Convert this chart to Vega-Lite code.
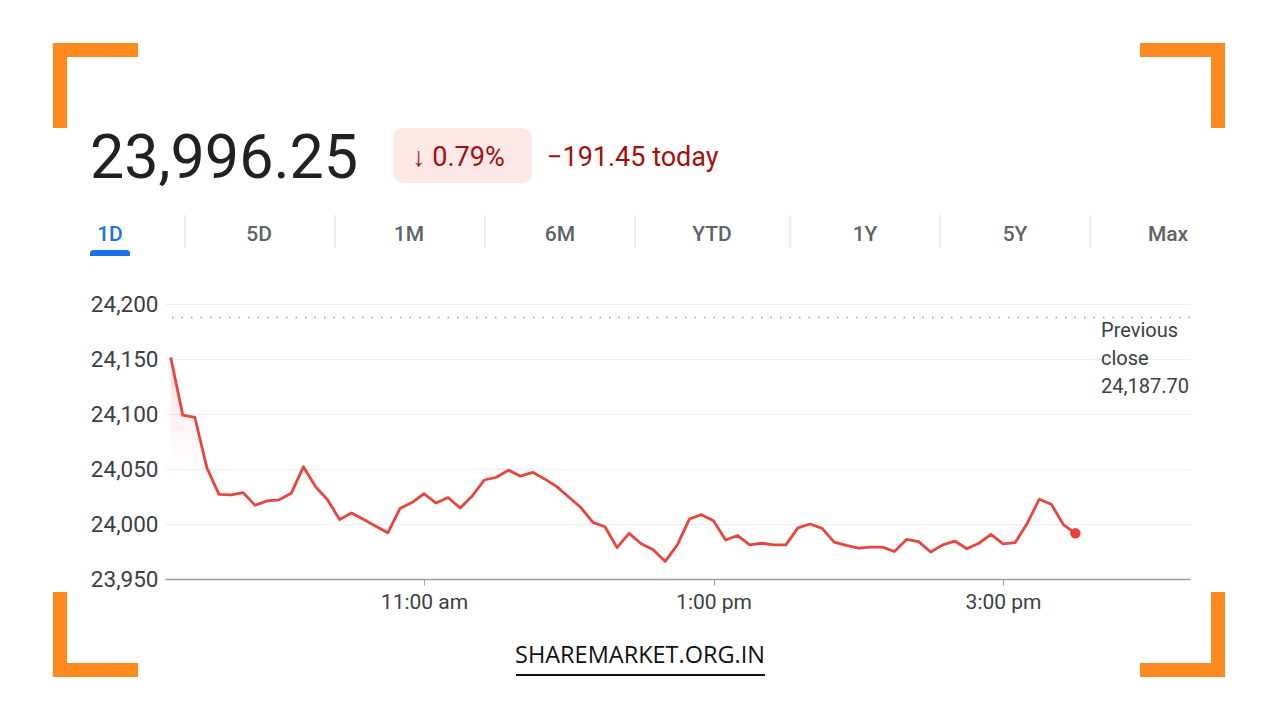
{
  "$schema": "https://vega.github.io/schema/vega-lite/v6.json",
  "width": 1025,
  "height": 275,
  "autosize": {"type": "none"},
  "padding": {"left": 165, "top": 304, "right": 90, "bottom": 141},
  "background": "white",
  "config": {"view": {"stroke": null}, "font": "Roboto"},
  "datasets": {
    "nifty": [
      {"t": "2024-01-02T09:15", "p": 24151.5},
      {"t": "2024-01-02T09:20", "p": 24099},
      {"t": "2024-01-02T09:25", "p": 24097},
      {"t": "2024-01-02T09:30", "p": 24051},
      {"t": "2024-01-02T09:35", "p": 24027},
      {"t": "2024-01-02T09:40", "p": 24026.5},
      {"t": "2024-01-02T09:45", "p": 24028.5},
      {"t": "2024-01-02T09:50", "p": 24017},
      {"t": "2024-01-02T09:55", "p": 24021},
      {"t": "2024-01-02T10:00", "p": 24022},
      {"t": "2024-01-02T10:05", "p": 24028},
      {"t": "2024-01-02T10:10", "p": 24052},
      {"t": "2024-01-02T10:15", "p": 24034},
      {"t": "2024-01-02T10:20", "p": 24022},
      {"t": "2024-01-02T10:25", "p": 24004},
      {"t": "2024-01-02T10:30", "p": 24010},
      {"t": "2024-01-02T10:35", "p": 24004},
      {"t": "2024-01-02T10:40", "p": 23998},
      {"t": "2024-01-02T10:45", "p": 23992},
      {"t": "2024-01-02T10:50", "p": 24014},
      {"t": "2024-01-02T10:55", "p": 24019.5},
      {"t": "2024-01-02T11:00", "p": 24027.5},
      {"t": "2024-01-02T11:05", "p": 24019},
      {"t": "2024-01-02T11:10", "p": 24024},
      {"t": "2024-01-02T11:15", "p": 24014.5},
      {"t": "2024-01-02T11:20", "p": 24025.5},
      {"t": "2024-01-02T11:25", "p": 24040},
      {"t": "2024-01-02T11:30", "p": 24042.5},
      {"t": "2024-01-02T11:35", "p": 24049},
      {"t": "2024-01-02T11:40", "p": 24043.5},
      {"t": "2024-01-02T11:45", "p": 24047},
      {"t": "2024-01-02T11:50", "p": 24041},
      {"t": "2024-01-02T11:55", "p": 24034},
      {"t": "2024-01-02T12:00", "p": 24024.5},
      {"t": "2024-01-02T12:05", "p": 24015},
      {"t": "2024-01-02T12:10", "p": 24001.5},
      {"t": "2024-01-02T12:15", "p": 23997.5},
      {"t": "2024-01-02T12:20", "p": 23978.5},
      {"t": "2024-01-02T12:25", "p": 23991.5},
      {"t": "2024-01-02T12:30", "p": 23982},
      {"t": "2024-01-02T12:35", "p": 23976.5},
      {"t": "2024-01-02T12:40", "p": 23966},
      {"t": "2024-01-02T12:45", "p": 23981},
      {"t": "2024-01-02T12:50", "p": 24004.5},
      {"t": "2024-01-02T12:55", "p": 24008.5},
      {"t": "2024-01-02T13:00", "p": 24003},
      {"t": "2024-01-02T13:05", "p": 23985.5},
      {"t": "2024-01-02T13:10", "p": 23989.5},
      {"t": "2024-01-02T13:15", "p": 23981},
      {"t": "2024-01-02T13:20", "p": 23982.5},
      {"t": "2024-01-02T13:25", "p": 23981},
      {"t": "2024-01-02T13:30", "p": 23981},
      {"t": "2024-01-02T13:35", "p": 23996.5},
      {"t": "2024-01-02T13:40", "p": 24000},
      {"t": "2024-01-02T13:45", "p": 23996},
      {"t": "2024-01-02T13:50", "p": 23983.5},
      {"t": "2024-01-02T13:55", "p": 23980.5},
      {"t": "2024-01-02T14:00", "p": 23978},
      {"t": "2024-01-02T14:05", "p": 23979},
      {"t": "2024-01-02T14:10", "p": 23979},
      {"t": "2024-01-02T14:15", "p": 23975},
      {"t": "2024-01-02T14:20", "p": 23986},
      {"t": "2024-01-02T14:25", "p": 23984},
      {"t": "2024-01-02T14:30", "p": 23974.5},
      {"t": "2024-01-02T14:35", "p": 23981},
      {"t": "2024-01-02T14:40", "p": 23984.5},
      {"t": "2024-01-02T14:45", "p": 23977.5},
      {"t": "2024-01-02T14:50", "p": 23982.5},
      {"t": "2024-01-02T14:55", "p": 23990.5},
      {"t": "2024-01-02T15:00", "p": 23982},
      {"t": "2024-01-02T15:05", "p": 23983},
      {"t": "2024-01-02T15:10", "p": 24000.5},
      {"t": "2024-01-02T15:15", "p": 24022.5},
      {"t": "2024-01-02T15:20", "p": 24018},
      {"t": "2024-01-02T15:25", "p": 23999.5},
      {"t": "2024-01-02T15:30", "p": 23991.5}
    ]
  },
  "data": {"values": [{}]},
  "layer": [
    {
      "data": {"name": "nifty"},
      "mark": {"type": "area", "line": false, "fill": {"gradient": "linear", "x1": 0, "y1": 0, "x2": 0.07, "y2": 0.6, "stops": [{"offset": 0, "color": "rgba(234,67,53,0.22)"}, {"offset": 1, "color": "rgba(255,255,255,0)"}]}},
      "encoding": {
        "x": {"field": "t", "type": "temporal",
          "scale": {"domain": [{"year": 2024, "month": 1, "date": 2, "hours": 9, "minutes": 12, "seconds": 38}, {"year": 2024, "month": 1, "date": 2, "hours": 16, "minutes": 17, "seconds": 30}], "nice": false},
          "axis": {"title": null, "grid": false, "values": [{"year": 2024, "month": 1, "date": 2, "hours": 11}, {"year": 2024, "month": 1, "date": 2, "hours": 13}, {"year": 2024, "month": 1, "date": 2, "hours": 15}],
            "labelExpr": "lower(timeFormat(datum.value, '%-I:%M %p'))", "labelFontSize": 21, "labelColor": "#3c4043", "labelFont": "Roboto",
            "domainColor": "#9aa0a6", "domainWidth": 1.5, "tickColor": "#9aa0a6", "tickSize": 6, "labelPadding": 6}},
        "y": {"field": "p", "type": "quantitative",
          "scale": {"domain": [23950, 24200], "nice": false, "zero": false},
          "axis": {"title": null, "values": [23950, 24000, 24050, 24100, 24150, 24200], "format": ",.0f", "domain": false, "ticks": false,
            "gridColor": "#eeeeee", "gridWidth": 1, "labelFontSize": 22.5, "labelColor": "#3c4043", "labelFont": "Roboto", "labelPadding": 7}},
        "y2": {"datum": 23950}
      }
    },
    {
      "mark": {"type": "rule", "stroke": "#9aa0a6", "strokeWidth": 1.5, "strokeDash": [1.5, 8]},
      "encoding": {"y": {"datum": 24187.7, "type": "quantitative"}}
    },
    {
      "data": {"name": "nifty"},
      "mark": {"type": "line", "stroke": "#e8453c", "strokeWidth": 2.8, "strokeJoin": "round"},
      "encoding": {"x": {"field": "t", "type": "temporal"}, "y": {"field": "p", "type": "quantitative"}}
    },
    {
      "data": {"name": "nifty"},
      "transform": [{"window": [{"op": "row_number", "as": "r"}], "sort": [{"field": "t", "order": "descending"}]}, {"filter": "datum.r == 1"}],
      "mark": {"type": "point", "filled": true, "fill": "#e8453c", "size": 110, "opacity": 1},
      "encoding": {"x": {"field": "t", "type": "temporal"}, "y": {"field": "p", "type": "quantitative"}}
    },
    {
      "mark": {"type": "text", "text": ["Previous", "close", "24,187.70"], "align": "left", "baseline": "alphabetic", "fontSize": 20, "lineHeight": 28, "color": "#3c4043", "font": "Roboto"},
      "encoding": {"x": {"datum": {"year": 2024, "month": 1, "date": 2, "hours": 15, "minutes": 40, "seconds": 37}, "type": "temporal"}, "y": {"datum": 24170, "type": "quantitative"}}
    },
    {
      "mark": {"type": "text", "text": "23,996.25", "align": "left", "baseline": "alphabetic", "fontSize": 61, "color": "#202124", "font": "Roboto"},
      "encoding": {"x": {"datum": {"year": 2024, "month": 1, "date": 2, "hours": 8, "minutes": 41, "seconds": 33}, "type": "temporal"}, "y": {"datum": 24314.5, "type": "quantitative"}}
    },
    {
      "mark": {"type": "rect", "fill": "#fce8e6", "cornerRadius": 10},
      "encoding": {"x": {"datum": {"year": 2024, "month": 1, "date": 2, "hours": 10, "minutes": 47, "seconds": 9}, "type": "temporal"}, "x2": {"datum": {"year": 2024, "month": 1, "date": 2, "hours": 11, "minutes": 44, "seconds": 46}}, "y": {"datum": 24360, "type": "quantitative"}, "y2": {"datum": 24310}}
    },
    {
      "mark": {"type": "text", "text": "↓ 0.79%", "align": "left", "baseline": "alphabetic", "fontSize": 27, "color": "#a50e0e", "font": "Roboto"},
      "encoding": {"x": {"datum": {"year": 2024, "month": 1, "date": 2, "hours": 10, "minutes": 55, "seconds": 2}, "type": "temporal"}, "y": {"datum": 24325.5, "type": "quantitative"}}
    },
    {
      "mark": {"type": "text", "text": "−191.45 today", "align": "left", "baseline": "alphabetic", "fontSize": 27, "color": "#a50e0e", "font": "Roboto"},
      "encoding": {"x": {"datum": {"year": 2024, "month": 1, "date": 2, "hours": 11, "minutes": 50, "seconds": 59}, "type": "temporal"}, "y": {"datum": 24325.5, "type": "quantitative"}}
    },
    {
      "mark": {"type": "text", "text": "1D", "align": "center", "baseline": "alphabetic", "fontSize": 21, "fontWeight": 500, "color": "#1a73e8", "font": "Roboto"},
      "encoding": {"x": {"datum": {"year": 2024, "month": 1, "date": 2, "hours": 8, "minutes": 49, "seconds": 50}, "type": "temporal"}, "y": {"datum": 24257.3, "type": "quantitative"}}
    },
    {
      "mark": {"type": "text", "text": "5D", "align": "center", "baseline": "alphabetic", "fontSize": 21, "fontWeight": 500, "color": "#5f6368", "font": "Roboto"},
      "encoding": {"x": {"datum": {"year": 2024, "month": 1, "date": 2, "hours": 9, "minutes": 51, "seconds": 37}, "type": "temporal"}, "y": {"datum": 24257.3, "type": "quantitative"}}
    },
    {
      "mark": {"type": "text", "text": "1M", "align": "center", "baseline": "alphabetic", "fontSize": 21, "fontWeight": 500, "color": "#5f6368", "font": "Roboto"},
      "encoding": {"x": {"datum": {"year": 2024, "month": 1, "date": 2, "hours": 10, "minutes": 53, "seconds": 47}, "type": "temporal"}, "y": {"datum": 24257.3, "type": "quantitative"}}
    },
    {
      "mark": {"type": "text", "text": "6M", "align": "center", "baseline": "alphabetic", "fontSize": 21, "fontWeight": 500, "color": "#5f6368", "font": "Roboto"},
      "encoding": {"x": {"datum": {"year": 2024, "month": 1, "date": 2, "hours": 11, "minutes": 56, "seconds": 22}, "type": "temporal"}, "y": {"datum": 24257.3, "type": "quantitative"}}
    },
    {
      "mark": {"type": "text", "text": "YTD", "align": "center", "baseline": "alphabetic", "fontSize": 21, "fontWeight": 500, "color": "#5f6368", "font": "Roboto"},
      "encoding": {"x": {"datum": {"year": 2024, "month": 1, "date": 2, "hours": 12, "minutes": 59, "seconds": 23}, "type": "temporal"}, "y": {"datum": 24257.3, "type": "quantitative"}}
    },
    {
      "mark": {"type": "text", "text": "1Y", "align": "center", "baseline": "alphabetic", "fontSize": 21, "fontWeight": 500, "color": "#5f6368", "font": "Roboto"},
      "encoding": {"x": {"datum": {"year": 2024, "month": 1, "date": 2, "hours": 14, "minutes": 2, "seconds": 48}, "type": "temporal"}, "y": {"datum": 24257.3, "type": "quantitative"}}
    },
    {
      "mark": {"type": "text", "text": "5Y", "align": "center", "baseline": "alphabetic", "fontSize": 21, "fontWeight": 500, "color": "#5f6368", "font": "Roboto"},
      "encoding": {"x": {"datum": {"year": 2024, "month": 1, "date": 2, "hours": 15, "minutes": 4, "seconds": 58}, "type": "temporal"}, "y": {"datum": 24257.3, "type": "quantitative"}}
    },
    {
      "mark": {"type": "text", "text": "Max", "align": "center", "baseline": "alphabetic", "fontSize": 21, "fontWeight": 500, "color": "#5f6368", "font": "Roboto"},
      "encoding": {"x": {"datum": {"year": 2024, "month": 1, "date": 2, "hours": 16, "minutes": 8, "seconds": 23}, "type": "temporal"}, "y": {"datum": 24257.3, "type": "quantitative"}}
    },
    {
      "mark": {"type": "rule", "stroke": "#dadce0", "strokeWidth": 1},
      "encoding": {"x": {"datum": {"year": 2024, "month": 1, "date": 2, "hours": 9, "minutes": 20, "seconds": 56}, "type": "temporal"}, "y": {"datum": 24280.9, "type": "quantitative"}, "y2": {"datum": 24250.9}}
    },
    {
      "mark": {"type": "rule", "stroke": "#dadce0", "strokeWidth": 1},
      "encoding": {"x": {"datum": {"year": 2024, "month": 1, "date": 2, "hours": 10, "minutes": 23, "seconds": 7}, "type": "temporal"}, "y": {"datum": 24280.9, "type": "quantitative"}, "y2": {"datum": 24250.9}}
    },
    {
      "mark": {"type": "rule", "stroke": "#dadce0", "strokeWidth": 1},
      "encoding": {"x": {"datum": {"year": 2024, "month": 1, "date": 2, "hours": 11, "minutes": 25, "seconds": 17}, "type": "temporal"}, "y": {"datum": 24280.9, "type": "quantitative"}, "y2": {"datum": 24250.9}}
    },
    {
      "mark": {"type": "rule", "stroke": "#dadce0", "strokeWidth": 1},
      "encoding": {"x": {"datum": {"year": 2024, "month": 1, "date": 2, "hours": 12, "minutes": 27, "seconds": 28}, "type": "temporal"}, "y": {"datum": 24280.9, "type": "quantitative"}, "y2": {"datum": 24250.9}}
    },
    {
      "mark": {"type": "rule", "stroke": "#dadce0", "strokeWidth": 1},
      "encoding": {"x": {"datum": {"year": 2024, "month": 1, "date": 2, "hours": 13, "minutes": 31, "seconds": 43}, "type": "temporal"}, "y": {"datum": 24280.9, "type": "quantitative"}, "y2": {"datum": 24250.9}}
    },
    {
      "mark": {"type": "rule", "stroke": "#dadce0", "strokeWidth": 1},
      "encoding": {"x": {"datum": {"year": 2024, "month": 1, "date": 2, "hours": 14, "minutes": 33, "seconds": 53}, "type": "temporal"}, "y": {"datum": 24280.9, "type": "quantitative"}, "y2": {"datum": 24250.9}}
    },
    {
      "mark": {"type": "rule", "stroke": "#dadce0", "strokeWidth": 1},
      "encoding": {"x": {"datum": {"year": 2024, "month": 1, "date": 2, "hours": 15, "minutes": 36, "seconds": 4}, "type": "temporal"}, "y": {"datum": 24280.9, "type": "quantitative"}, "y2": {"datum": 24250.9}}
    },
    {
      "mark": {"type": "rect", "fill": "#1a73e8", "cornerRadiusTopLeft": 4, "cornerRadiusTopRight": 4},
      "encoding": {"x": {"datum": {"year": 2024, "month": 1, "date": 2, "hours": 8, "minutes": 41, "seconds": 33}, "type": "temporal"}, "x2": {"datum": {"year": 2024, "month": 1, "date": 2, "hours": 8, "minutes": 58, "seconds": 8}}, "y": {"datum": 24249.1, "type": "quantitative"}, "y2": {"datum": 24243.6}}
    },
    {
      "mark": {"type": "text", "text": "SHAREMARKET.ORG.IN", "align": "center", "baseline": "alphabetic", "fontSize": 23.5, "color": "#111111", "font": "Open Sans"},
      "encoding": {"x": {"datum": {"year": 2024, "month": 1, "date": 2, "hours": 12, "minutes": 29, "seconds": 32}, "type": "temporal"}, "y": {"datum": 23873.4, "type": "quantitative"}}
    },
    {
      "mark": {"type": "rule", "stroke": "#111111", "strokeWidth": 2},
      "encoding": {"x": {"datum": {"year": 2024, "month": 1, "date": 2, "hours": 11, "minutes": 38, "seconds": 8}, "type": "temporal"}, "x2": {"datum": {"year": 2024, "month": 1, "date": 2, "hours": 13, "minutes": 21, "seconds": 21}}, "y": {"datum": 23862.7, "type": "quantitative"}}
    },
    {
      "mark": {"type": "rect", "fill": "#fd8a1f"},
      "encoding": {"x": {"datum": {"year": 2024, "month": 1, "date": 2, "hours": 8, "minutes": 26, "seconds": 13}, "type": "temporal"}, "x2": {"datum": {"year": 2024, "month": 1, "date": 2, "hours": 9, "minutes": 1, "seconds": 27}}, "y": {"datum": 24437.27, "type": "quantitative"}, "y2": {"datum": 24424.55}}
    },
    {
      "mark": {"type": "rect", "fill": "#fd8a1f"},
      "encoding": {"x": {"datum": {"year": 2024, "month": 1, "date": 2, "hours": 8, "minutes": 26, "seconds": 13}, "type": "temporal"}, "x2": {"datum": {"year": 2024, "month": 1, "date": 2, "hours": 8, "minutes": 32, "seconds": 1}}, "y": {"datum": 24437.27, "type": "quantitative"}, "y2": {"datum": 24360}}
    },
    {
      "mark": {"type": "rect", "fill": "#fd8a1f"},
      "encoding": {"x": {"datum": {"year": 2024, "month": 1, "date": 2, "hours": 15, "minutes": 56, "seconds": 47}, "type": "temporal"}, "x2": {"datum": {"year": 2024, "month": 1, "date": 2, "hours": 16, "minutes": 32, "seconds": 1}}, "y": {"datum": 24437.27, "type": "quantitative"}, "y2": {"datum": 24424.55}}
    },
    {
      "mark": {"type": "rect", "fill": "#fd8a1f"},
      "encoding": {"x": {"datum": {"year": 2024, "month": 1, "date": 2, "hours": 16, "minutes": 26, "seconds": 13}, "type": "temporal"}, "x2": {"datum": {"year": 2024, "month": 1, "date": 2, "hours": 16, "minutes": 32, "seconds": 1}}, "y": {"datum": 24437.27, "type": "quantitative"}, "y2": {"datum": 24360}}
    },
    {
      "mark": {"type": "rect", "fill": "#fd8a1f"},
      "encoding": {"x": {"datum": {"year": 2024, "month": 1, "date": 2, "hours": 8, "minutes": 26, "seconds": 13}, "type": "temporal"}, "x2": {"datum": {"year": 2024, "month": 1, "date": 2, "hours": 9, "minutes": 1, "seconds": 27}}, "y": {"datum": 23873.64, "type": "quantitative"}, "y2": {"datum": 23860.91}}
    },
    {
      "mark": {"type": "rect", "fill": "#fd8a1f"},
      "encoding": {"x": {"datum": {"year": 2024, "month": 1, "date": 2, "hours": 8, "minutes": 26, "seconds": 13}, "type": "temporal"}, "x2": {"datum": {"year": 2024, "month": 1, "date": 2, "hours": 8, "minutes": 32, "seconds": 1}}, "y": {"datum": 23938.18, "type": "quantitative"}, "y2": {"datum": 23860.91}}
    },
    {
      "mark": {"type": "rect", "fill": "#fd8a1f"},
      "encoding": {"x": {"datum": {"year": 2024, "month": 1, "date": 2, "hours": 15, "minutes": 56, "seconds": 47}, "type": "temporal"}, "x2": {"datum": {"year": 2024, "month": 1, "date": 2, "hours": 16, "minutes": 32, "seconds": 1}}, "y": {"datum": 23873.64, "type": "quantitative"}, "y2": {"datum": 23860.91}}
    },
    {
      "mark": {"type": "rect", "fill": "#fd8a1f"},
      "encoding": {"x": {"datum": {"year": 2024, "month": 1, "date": 2, "hours": 16, "minutes": 26, "seconds": 13}, "type": "temporal"}, "x2": {"datum": {"year": 2024, "month": 1, "date": 2, "hours": 16, "minutes": 32, "seconds": 1}}, "y": {"datum": 23938.18, "type": "quantitative"}, "y2": {"datum": 23860.91}}
    }
  ]
}
